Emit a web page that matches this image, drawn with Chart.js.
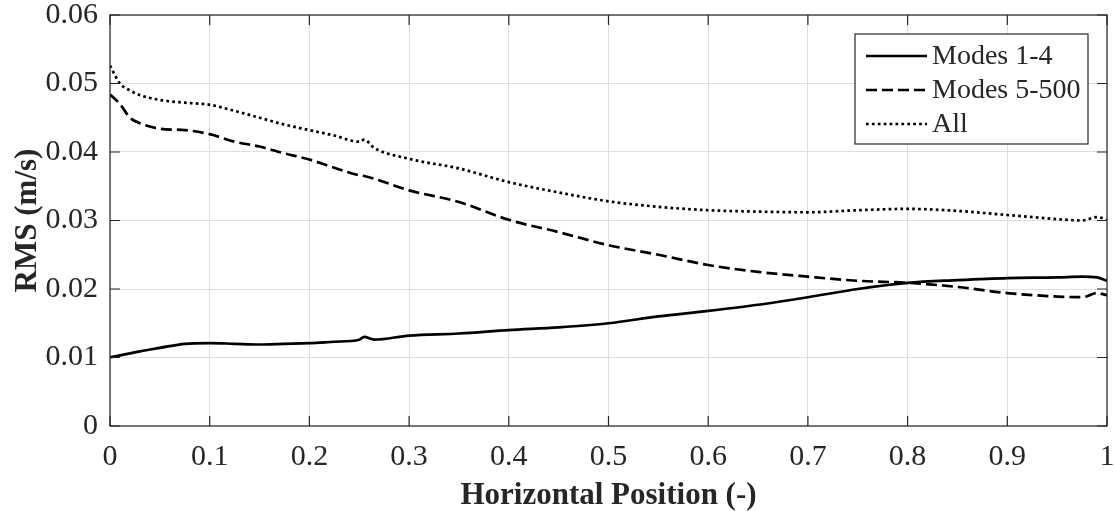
<!DOCTYPE html>
<html>
<head>
<meta charset="utf-8">
<script src="https://cdn.jsdelivr.net/npm/chart.js@4.4.1/dist/chart.umd.min.js"></script>
<style>
  html, body { margin: 0; padding: 0; background: #fff; }
  #wrap { width: 1114px; height: 511px; }
</style>
</head>
<body>
<div id="wrap"><canvas id="rmschart" width="1114" height="511"></canvas></div>
<script>
// horizontal positions (shared by all three curves)
var xPos = [0, 0.01, 0.02, 0.03, 0.05, 0.075, 0.1, 0.125, 0.15, 0.175, 0.2, 0.225, 0.25, 0.255, 0.265,
            0.3, 0.35, 0.4, 0.45, 0.5, 0.55, 0.6, 0.65, 0.7, 0.75, 0.8, 0.85, 0.9, 0.95, 0.975, 0.99, 1.0];

var modes1to4 = [0.0100, 0.0103, 0.0106, 0.0109, 0.0114, 0.0120, 0.0121, 0.0120, 0.0119, 0.0120, 0.0121, 0.0123,
                 0.0126, 0.0130, 0.0126, 0.0132, 0.0135, 0.0140, 0.0144, 0.0150, 0.0160, 0.0168, 0.0177, 0.0188,
                 0.0200, 0.0209, 0.0213, 0.0216, 0.0217, 0.0218, 0.0217, 0.0212];

var modes5to500 = [0.0484, 0.0470, 0.0450, 0.0442, 0.0434, 0.0432, 0.0426, 0.0415, 0.0408, 0.0398, 0.0389, 0.0377,
                   0.0366, 0.0365, 0.0361, 0.0344, 0.0327, 0.0301, 0.0283, 0.0264, 0.0250, 0.0235, 0.0225, 0.0218,
                   0.0212, 0.0209, 0.0203, 0.0194, 0.0189, 0.0188, 0.0194, 0.0191];

var allModes = [0.0526, 0.0500, 0.0490, 0.0483, 0.0476, 0.0472, 0.0469, 0.0460, 0.0450, 0.0440, 0.0432, 0.0424,
                0.0415, 0.0418, 0.0406, 0.0390, 0.0376, 0.0356, 0.0341, 0.0328, 0.0320, 0.0315, 0.0313, 0.0312,
                0.0315, 0.0317, 0.0314, 0.0308, 0.0302, 0.0300, 0.0305, 0.0301];

var seriesNames = ['Modes 1-4', 'Modes 5-500', 'All'];
var xTickLabels = ['0', '0.1', '0.2', '0.3', '0.4', '0.5', '0.6', '0.7', '0.8', '0.9', '1'];
var yTickLabels = ['0', '0.01', '0.02', '0.03', '0.04', '0.05', '0.06'];

var axisColor = '#262626';
var serif = '"Liberation Serif", "Times New Roman", serif';

function pts(ys) {
    return xPos.map(function (x, i) { return { x: x, y: ys[i] }; });
}

// box around the plot with inward ticks, like matlab
var frame = {
    id: 'frame',
    afterDatasetsDraw: function (chart) {
        var c = chart.ctx, a = chart.chartArea;
        var sx = chart.scales.x, sy = chart.scales.y;
        c.save();
        c.strokeStyle = axisColor;
        c.lineWidth = 1.2;
        c.strokeRect(a.left, a.top, a.right - a.left, a.bottom - a.top);
        c.beginPath();
        sx.ticks.forEach(function (t) {
            var px = sx.getPixelForValue(t.value);
            c.moveTo(px, a.bottom); c.lineTo(px, a.bottom - 10);
            c.moveTo(px, a.top); c.lineTo(px, a.top + 10);
        });
        sy.ticks.forEach(function (t) {
            var py = sy.getPixelForValue(t.value);
            c.moveTo(a.left, py); c.lineTo(a.left + 10, py);
            c.moveTo(a.right, py); c.lineTo(a.right - 10, py);
        });
        c.stroke();
        c.restore();
    }
};

// boxed legend in the upper right corner
var boxLegend = {
    id: 'boxLegend',
    afterDraw: function (chart) {
        var c = chart.ctx, a = chart.chartArea;
        var bw = 233, bh = 110;
        var bx = a.right - 19 - bw, by = a.top + 19;
        c.save();
        c.fillStyle = '#fff';
        c.fillRect(bx, by, bw, bh);
        c.strokeStyle = axisColor;
        c.lineWidth = 1.2;
        c.strokeRect(bx, by, bw, bh);
        c.font = '28px ' + serif;
        c.textBaseline = 'middle';
        c.fillStyle = axisColor;
        chart.data.datasets.forEach(function (ds, i) {
            var ry = by + 22 + i * 34;
            c.beginPath();
            c.strokeStyle = ds.borderColor;
            c.lineWidth = ds.borderWidth;
            c.setLineDash(ds.borderDash || []);
            c.moveTo(bx + 11, ry);
            c.lineTo(bx + 72, ry);
            c.stroke();
            c.setLineDash([]);
            c.fillText(ds.label, bx + 77, ry + 1);
        });
        c.restore();
    }
};

var ctx = document.getElementById('rmschart').getContext('2d');
var myChart = new Chart(ctx, {
    type: 'line',
    data: {
        datasets: [{
            label: seriesNames[0],
            data: pts(modes1to4),
            borderColor: '#000',
            borderWidth: 2.7,
            pointRadius: 0,
            cubicInterpolationMode: 'monotone'
        },
        {
            label: seriesNames[1],
            data: pts(modes5to500),
            borderColor: '#000',
            borderWidth: 2.7,
            borderDash: [11, 5],
            pointRadius: 0,
            cubicInterpolationMode: 'monotone'
        },
        {
            label: seriesNames[2],
            data: pts(allModes),
            borderColor: '#000',
            borderWidth: 2.7,
            borderDash: [2.7, 3.2],
            pointRadius: 0,
            cubicInterpolationMode: 'monotone'
        }]
    },
    options: {
        responsive: false,
        animation: false,
        layout: { padding: { left: 0, top: 15, right: 7, bottom: 0 } },
        plugins: {
            legend: { display: false },
            tooltip: { enabled: false }
        },
        scales: {
            x: {
                type: 'linear',
                min: 0,
                max: 1,
                afterFit: function (s) {
                    s.height = 85;
                    s.paddingLeft = 0;
                    s.paddingRight = 0;
                },
                afterBuildTicks: function (s) {
                    s.ticks = xTickLabels.map(function (l) { return { value: parseFloat(l) }; });
                },
                ticks: {
                    color: axisColor,
                    font: { family: serif, size: 30 },
                    padding: 13,
                    maxRotation: 0,
                    callback: function (v, i) { return xTickLabels[i]; }
                },
                grid: { color: '#dedede', lineWidth: 1, drawTicks: false },
                border: { display: false },
                title: {
                    display: true,
                    text: 'Horizontal Position (-)',
                    color: axisColor,
                    font: { family: serif, size: 31, weight: 'bold' },
                    padding: { top: 0, bottom: -4 }
                }
            },
            y: {
                min: 0,
                max: 0.06,
                afterFit: function (s) {
                    s.width = 110;
                    s.paddingTop = 0;
                    s.paddingBottom = 0;
                },
                afterBuildTicks: function (s) {
                    s.ticks = yTickLabels.map(function (l) { return { value: parseFloat(l) }; });
                },
                ticks: {
                    color: axisColor,
                    font: { family: serif, size: 30 },
                    padding: 12,
                    callback: function (v, i) { return yTickLabels[i]; }
                },
                grid: { color: '#dedede', lineWidth: 1, drawTicks: false },
                border: { display: false },
                title: {
                    display: true,
                    text: 'RMS (m/s)',
                    color: axisColor,
                    font: { family: serif, size: 31, weight: 'bold' },
                    padding: { top: 9, bottom: 0 }
                }
            }
        }
    },
    plugins: [frame, boxLegend]
});
</script>
</body>
</html>
